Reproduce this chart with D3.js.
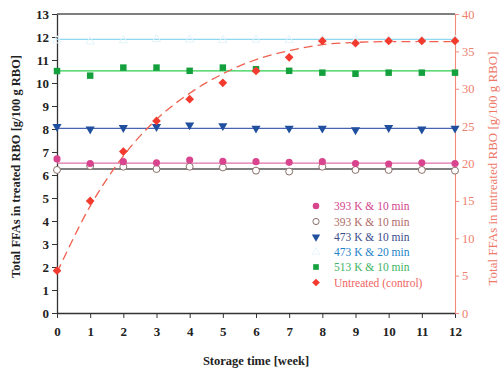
<!DOCTYPE html>
<html><head><meta charset="utf-8">
<script src="https://cdn.jsdelivr.net/npm/d3@7"></script>
<style>body{margin:0;background:#fff}svg{display:block}</style>
</head><body>
<svg id="c" width="504" height="372"></svg>
<script>
const weeks = [0,1,2,3,4,5,6,7,8,9,10,11,12];
const s393filled = [6.70,6.50,6.58,6.53,6.65,6.60,6.58,6.55,6.58,6.50,6.48,6.53,6.50];
const s393open   = [6.22,6.39,6.36,6.26,6.36,6.33,6.19,6.15,6.36,6.22,6.22,6.22,6.19];
const s473_10    = [8.10,7.99,8.06,8.10,8.17,8.14,8.03,8.03,8.03,7.96,8.06,7.99,8.03];
const s473_20    = [11.85,11.80,11.85,11.90,11.88,11.86,11.88,11.86,11.90,11.86,11.88,11.86,11.88];
const s513_10    = [10.52,10.32,10.67,10.67,10.53,10.67,10.60,10.53,10.45,10.40,10.45,10.45,10.45];
const untreated  = [5.66,15.0,21.6,25.7,28.6,30.8,32.4,34.2,36.4,36.1,36.4,36.4,36.4];
const untreatedFit = [5.4,14.3,21.0,25.9,29.4,32.0,33.9,35.1,35.9,36.2,36.3,36.3,36.3];
const fitLevels = {s393filled:6.52, s393open:6.26, s473_10:8.03, s473_20:11.9, s513_10:10.53};
const leftTicks = [0,1,2,3,4,5,6,7,8,9,10,11,12,13];
const rightTicks = [0,5,10,15,20,25,30,35,40];
const legendLabels = ["393 K & 10 min","393 K & 10 min","473 K & 10 min","473 K & 20 min","513 K & 10 min","Untreated (control)"];

const svg = d3.select("#c");
const L = 57, R = 455, T = 14, B = 313;
const x = d3.scaleLinear().domain([0,12]).range([L,R]);
const y = d3.scaleLinear().domain([0,13]).range([B,T]);
const y2 = d3.scaleLinear().domain([0,40]).range([B,T]);
const serif = "'Liberation Serif','Times New Roman',serif";

svg.append("line").attr("x1",L).attr("x2",R).attr("y1",T).attr("y2",T).attr("stroke","#555").attr("stroke-width",1.3);

const gx = svg.append("g").attr("transform",`translate(0,${B})`)
  .call(d3.axisBottom(x).tickValues(weeks).tickFormat(d3.format("d")).tickSize(5).tickSizeOuter(0));
gx.select(".domain").attr("stroke","#333").attr("stroke-width",1.3);
gx.selectAll(".tick line").attr("stroke","#333");
gx.selectAll("text").attr("font-family",serif).attr("font-size",13).attr("font-weight","bold").attr("fill","#222").attr("dy","1.15em");

const gy = svg.append("g").attr("transform",`translate(${L},0)`)
  .call(d3.axisLeft(y).tickValues(leftTicks).tickFormat(d3.format("d")).tickSize(5).tickSizeOuter(0));
gy.select(".domain").attr("stroke","#333").attr("stroke-width",1.3);
gy.selectAll(".tick line").attr("stroke","#333");
gy.selectAll("text").attr("font-family",serif).attr("font-size",13).attr("font-weight","bold").attr("fill","#222");

const gr = svg.append("g").attr("transform",`translate(${R},0)`)
  .call(d3.axisRight(y2).tickValues(rightTicks).tickFormat(d3.format("d")).tickSize(4).tickSizeOuter(0));
gr.select(".domain").attr("stroke","#f08a7c").attr("stroke-width",1.1);
gr.selectAll(".tick line").attr("stroke","#f08a7c");
gr.selectAll("text").attr("font-family",serif).attr("font-size",12.5).attr("fill","#ee8070").attr("x",7);

svg.append("text").attr("transform",`translate(20,${(T+B)/2+3}) rotate(-90)`).attr("text-anchor","middle")
  .attr("font-family",serif).attr("font-weight","bold").attr("font-size",12.5).attr("fill","#222")
  .text("Total FFAs in treated RBO [g/100 g RBO]");
svg.append("text").attr("transform",`translate(497,${(T+B)/2+5}) rotate(-90)`).attr("text-anchor","middle")
  .attr("font-family",serif).attr("font-size",13).attr("fill","#ee7868")
  .text("Total FFAs in untreated RBO [g/100 g RBO]");
svg.append("text").attr("x",(L+R)/2).attr("y",365).attr("text-anchor","middle")
  .attr("font-family",serif).attr("font-weight","bold").attr("font-size",12.5).attr("fill","#222")
  .text("Storage time [week]");

const fits = [
  [fitLevels.s473_20,"#8fd8f2"],
  [fitLevels.s513_10,"#2ed04e"],
  [fitLevels.s473_10,"#4a64b4"],
  [fitLevels.s393filled,"#e070a8"],
  [fitLevels.s393open,"#555"]
];
fits.forEach(([v,c])=>{
  svg.append("line").attr("x1",L).attr("x2",R).attr("y1",y(v)).attr("y2",y(v)).attr("stroke",c).attr("stroke-width",1.3);
});

svg.append("path").datum(weeks.map((w,i)=>[w,untreatedFit[i]]))
  .attr("d",d3.line().x(d=>x(d[0])).y(d=>y2(d[1])).curve(d3.curveMonotoneX))
  .attr("fill","none").attr("stroke","#f0604e").attr("stroke-width",1.3).attr("stroke-dasharray","9,5");

const sym = (type,size)=>d3.symbol().type(type).size(size)();
function plot(data, scale, rot, draw){
  data.forEach((v,i)=>draw(svg.append("path")
    .attr("transform",`translate(${x(weeks[i])},${scale(v)})${rot?` rotate(${rot})`:""}`)));
}
plot(s473_20, y, 0, p=>p.attr("d",sym(d3.symbolTriangle,30)).attr("fill","none").attr("stroke","#e2f4fa").attr("stroke-width",1));
plot(s513_10, y, 0, p=>p.attr("d",sym(d3.symbolSquare,42)).attr("fill","#15a03e"));
plot(s473_10, y, 180, p=>p.attr("d",sym(d3.symbolTriangle,36)).attr("fill","#1f4f9e"));
plot(s393open, y, 0, p=>p.attr("d",sym(d3.symbolCircle,38)).attr("fill","#fff").attr("stroke","#8a7068").attr("stroke-width",1));
plot(s393filled, y, 0, p=>p.attr("d",sym(d3.symbolCircle,40)).attr("fill","#d8458e"));
plot(untreated, y2, 45, p=>p.attr("d",sym(d3.symbolSquare,38)).attr("fill","#f23a2e"));

const legColors = ["#d4448a","#b06a66","#3a4c8c","#1c84c8","#3cb462","#f06262"];
const legY = [206,221.5,237,252,267,282.5];
const mx = 316, tx = 334;
const legMarkers = [
  [g=>g.attr("d",sym(d3.symbolCircle,34)).attr("fill","#d8458e"),0],
  [g=>g.attr("d",sym(d3.symbolCircle,30)).attr("fill","#fff").attr("stroke","#8a7068"),0],
  [g=>g.attr("d",sym(d3.symbolTriangle,30)).attr("fill","#1f4f9e"),180],
  [g=>g.attr("d",sym(d3.symbolTriangle,26)).attr("fill","none").attr("stroke","#eaf6fa"),0],
  [g=>g.attr("d",sym(d3.symbolSquare,32)).attr("fill","#15a03e"),0],
  [g=>g.attr("d",sym(d3.symbolSquare,30)).attr("fill","#f23a2e"),45]
];
legendLabels.forEach((t,i)=>{
  const p = svg.append("path");
  legMarkers[i][0](p);
  p.attr("transform",`translate(${mx},${legY[i]})${legMarkers[i][1]?` rotate(${legMarkers[i][1]})`:""}`);
  svg.append("text").attr("x",tx).attr("y",legY[i]+4).attr("font-family",serif).attr("font-size",11.5)
    .attr("fill",legColors[i]).text(t);
});
</script>
</body></html>
